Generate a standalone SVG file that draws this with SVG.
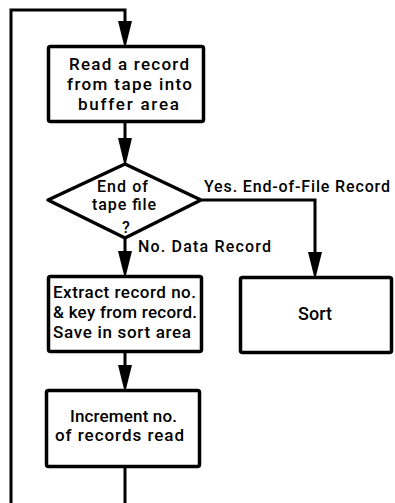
<svg xmlns="http://www.w3.org/2000/svg" width="395" height="503" viewBox="0 0 395 503">
<style>
.box{fill:#fff;stroke:#000;stroke-width:3.5;stroke-linejoin:round}
.con{fill:none;stroke:#000;stroke-width:3}
.ah{fill:#000;stroke:none}
text{font-family:Roboto,"Liberation Sans",Arial,sans-serif;font-weight:500;fill:#000}
.t{font-size:17px}
.d{font-size:16px}
.l{font-size:16px}
</style>
<rect width="395" height="503" fill="#fff"/>
<g id="connectors">
<path class="con" d="M11,503 V10 H125 V40"/>
<path class="ah" d="M118,21 L132,21 L126,45 L124,45 Z"/>
<path class="con" d="M125,123 V155"/>
<path class="ah" d="M118,138 L132,138 L126,163 L124,163 Z"/>
<path class="con" d="M202,200 H315 V270"/>
<path class="ah" d="M308,252 L322,252 L316,276 L314,276 Z"/>
<path class="con" d="M125,238 V270"/>
<path class="ah" d="M118,251 L132,251 L126,275 L124,275 Z"/>
<path class="con" d="M125,353 V383"/>
<path class="ah" d="M118,365 L132,365 L126,389 L124,389 Z"/>
<path class="con" d="M125,468 V503"/>
<text class="l" x="204" y="192" textLength="186" lengthAdjust="spacing">Yes. End-of-File Record</text>
<text class="l" x="138" y="252" textLength="133" lengthAdjust="spacing">No. Data Record</text>
</g>
<g id="read">
<rect class="box" x="48.5" y="46.5" width="155" height="75" rx="2"/>
<text class="t" x="69" y="70" textLength="120" lengthAdjust="spacing">Read a record</text>
<text class="t" x="67" y="90" textLength="125" lengthAdjust="spacing">from tape into</text>
<text class="t" x="78" y="110" textLength="101" lengthAdjust="spacing">buffer area</text>
</g>
<g id="decision">
<polygon class="box" points="125,164 201,200 125,238 48,200" stroke-linejoin="miter"/>
<text class="d" x="97" y="192" textLength="51" lengthAdjust="spacing">End of</text>
<text class="d" x="92" y="210" textLength="64" lengthAdjust="spacing">tape file</text>
<text class="d" x="122" y="233">?</text>
</g>
<g id="extract">
<rect class="box" x="48.5" y="276.5" width="153" height="75" rx="2"/>
<text class="t" x="53" y="298" textLength="143" lengthAdjust="spacing">Extract record no.</text>
<text class="t" x="53" y="318" textLength="144" lengthAdjust="spacing">&amp; key from record.</text>
<text class="t" x="53" y="338" textLength="138" lengthAdjust="spacing">Save in sort area</text>
</g>
<g id="sort">
<rect class="box" x="240.5" y="277.5" width="151" height="75" rx="2"/>
<text x="298" y="320" font-size="18" textLength="34" lengthAdjust="spacing">Sort</text>
</g>
<g id="increment">
<rect class="box" x="46.5" y="390.5" width="153" height="76" rx="2"/>
<text class="t" x="70" y="422" textLength="107" lengthAdjust="spacing">Increment no.</text>
<text class="t" x="55" y="441" textLength="129" lengthAdjust="spacing">of records read</text>
</g>
</svg>
